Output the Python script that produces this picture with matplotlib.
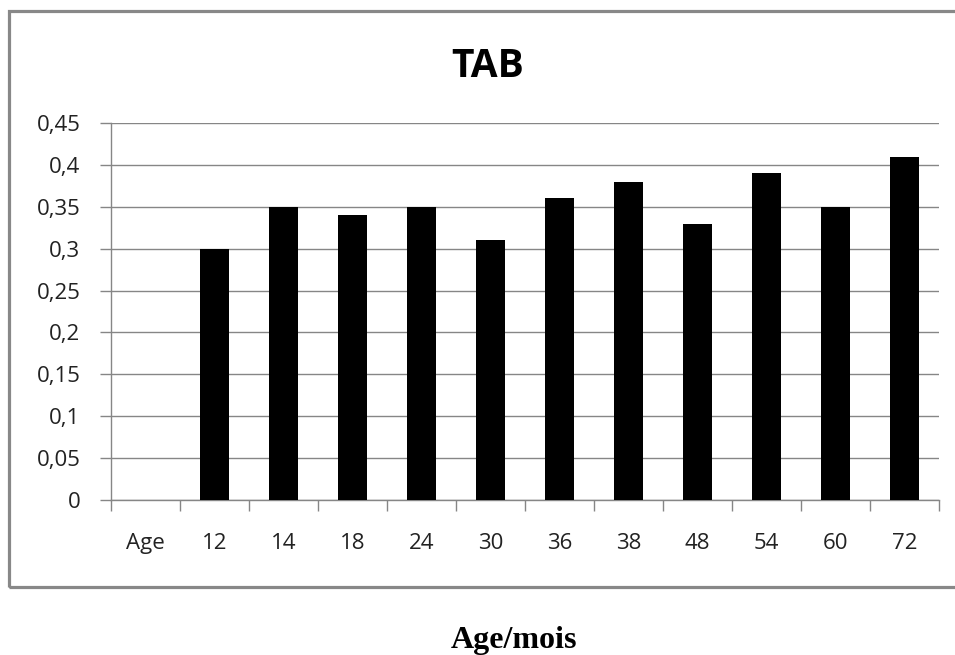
import numpy as np
import matplotlib
matplotlib.use("Agg")
import matplotlib.pyplot as plt
from matplotlib.patches import Rectangle

categories = ["Age", "12", "14", "18", "24", "30", "36", "38", "48", "54", "60", "72"]
values = [np.nan, 0.30, 0.35, 0.34, 0.35, 0.31, 0.36, 0.38, 0.33, 0.39, 0.35, 0.41]
yticks = [0, 0.05, 0.1, 0.15, 0.2, 0.25, 0.3, 0.35, 0.4, 0.45]
ytick_labels = ["0", "0,05", "0,1", "0,15", "0,2", "0,25", "0,3", "0,35", "0,4", "0,45"]

W, H = 955, 655
fig = plt.figure(figsize=(W / 100, H / 100), dpi=100)
fig.patch.set_facecolor("white")

grid_col = "#868686"
tick_font = "Open Sans"
tick_size = 16

# chart frame (runs past the right edge of the image)
fig.add_artist(Rectangle((9 / W, 1 - 587 / H), (960 - 9) / W, (587 - 11) / H,
                         transform=fig.transFigure, fill=False,
                         edgecolor="#888888", linewidth=2.3, zorder=0))

left, right, top, bottom = 111, 939, 123, 500
ax = fig.add_axes([left / W, 1 - bottom / H, (right - left) / W, (bottom - top) / H])

x = np.arange(len(categories))
ax.bar(x, values, width=0.42, color="black", zorder=3)

ax.set_xlim(-0.5, len(categories) - 0.5)
ax.set_ylim(0, 0.45)
ax.set_yticks(yticks)
ax.set_yticklabels(ytick_labels, fontname=tick_font, fontsize=tick_size, color="#222222")
ax.yaxis.grid(True, color=grid_col, linewidth=1.0, zorder=0)
ax.set_axisbelow(True)

# category labels at centers, tick marks at category boundaries
ax.set_xticks(x)
ax.set_xticklabels(categories, fontname=tick_font, fontsize=tick_size, color="#222222")
ax.tick_params(axis="x", which="major", length=0, pad=24)
ax.set_xticks(np.arange(len(categories) + 1) - 0.5, minor=True)
ax.tick_params(axis="x", which="minor", length=8, color=grid_col, width=1)
ax.tick_params(axis="y", length=8, color=grid_col, width=1, pad=14)

for s in ["top", "right"]:
    ax.spines[s].set_visible(False)
for s in ["left", "bottom"]:
    ax.spines[s].set_color(grid_col)
    ax.spines[s].set_linewidth(1.0)

fig.text(488 / W, 1 - 77 / H, "TAB", ha="center", va="baseline",
         fontname=tick_font, fontweight="bold", fontsize=28)
fig.text(514 / W, 1 - 648 / H, "Age/mois", ha="center", va="baseline",
         fontname="Liberation Serif", fontweight="bold", fontsize=23)

fig.savefig("out.png", dpi=100, facecolor="white")
